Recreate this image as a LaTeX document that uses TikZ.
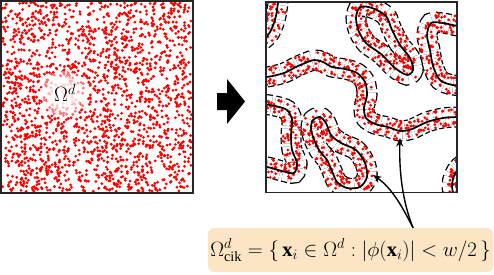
\documentclass[tikz,border=0pt]{standalone}
\usepackage{fontspec}
\setmainfont{Liberation Serif}
\usetikzlibrary{arrows.meta}
\definecolor{lblfill}{RGB}{252,229,196}
\definecolor{dotred}{RGB}{255,0,0}
\pgfdeclarelayer{edgelayer}
\pgfdeclarelayer{dotlayer}
\pgfsetlayers{edgelayer,dotlayer,main}
\tikzset{
  panel/.style={draw=black!85, line width=1.5pt},
  bandedge/.style={draw=black, dash pattern=on 5.5pt off 3pt, line width=1.3pt, double=white, double distance=18.5pt},
  midline/.style={draw=black, line width=1.7pt},
  conn/.style={draw=black, line width=1.4pt, -{Stealth[length=8.5pt,width=7pt]}},
  lblbox/.style={fill=lblfill, rounded corners=6pt, minimum width=285pt, minimum height=44pt, inner sep=0pt},
}
\newcommand\rightclip{\clip (266,2) rectangle (457,192);}
% random dots along a polyline given as x/y list
\newcommand\polydots[1]{%
  \foreach \px/\py [count=\k, remember=\px as \lx (initially 0), remember=\py as \ly (initially 0)] in {#1} {%
    \ifnum\k>1
      \pgfmathsetmacro\bdx{\px-\lx}%
      \pgfmathsetmacro\bdy{\py-\ly}%
      \pgfmathsetmacro\blen{veclen(\bdx,\bdy)}%
      \pgfmathtruncatemacro\bn{max(1,round(\blen/1.0))}%
      \foreach \j in {1,...,\bn}{%
        \pgfmathsetmacro\bt{rnd}%
        \pgfmathsetmacro\boff{rnd*19-9.5}%
        \fill[dotred] ({\lx+\bt*\bdx-\boff*\bdy/\blen},{\ly+\bt*\bdy+\boff*\bdx/\blen}) circle (1.55pt);
      }%
    \fi
  }%
}
\newcommand\myband[2]{%
  \begin{pgfonlayer}{edgelayer}\begin{scope}\rightclip\draw[bandedge] #1;\end{scope}\end{pgfonlayer}
  \begin{pgfonlayer}{dotlayer}\begin{scope}\rightclip\polydots{#2}\end{scope}\end{pgfonlayer}
  \begin{scope}\rightclip\draw[midline] #1;\end{scope}%
}
\begin{document}
\begin{tikzpicture}[x=1pt,y=-1pt]
\useasboundingbox (0,0) rectangle (494,274);
\pgfmathsetseed{4242}
% left panel
\foreach \i in {1,...,2000} {\fill[dotred] (2.5+rnd*189, 2.5+rnd*189) circle (1.55pt);}
\fill[white, opacity=0.45] (64,94) circle (23pt);
\fill[white, opacity=0.45] (64,94) circle (18pt);
\fill[white, opacity=0.5] (64,94) circle (13pt);
\node (om) at (65,93) {\fontsize{20}{22}\selectfont$\Omega^d$};
\draw[panel] (1,1) rectangle (193,193);
% block arrow
\fill[black] (217,93) -- (227,93) -- (227,79) -- (245,101.5) -- (227,124) -- (227,110) -- (217,110) -- cycle;
% right panel bands
\myband{plot[smooth] coordinates {(280,-12) (278,3) (275,20) (268,35) (252,48)}}
  {280/-12, 278/3, 275/20, 268/35, 252/48}
\myband{plot[smooth] coordinates {(250,78) (267,77) (284,73) (298,66) (314,60) (323,62) (332,67) (345,69) (357,73) (365,82) (367,95) (364,108) (366,118) (375,124) (388,127) (400,131) (412,129) (427,122) (443,118) (458,117) (475,117)}}
  {250/78, 267/77, 284/73, 298/66, 314/60, 323/62, 332/67, 345/69, 357/73, 365/82, 367/95, 364/108, 366/118, 375/124, 388/127, 400/131, 412/129, 427/122, 443/118, 458/117, 475/117}
\myband{plot[smooth] coordinates {(250,166) (267,167) (282,171) (294,173) (297,163) (292,150) (291,135) (292,120) (287,110) (275,106) (262,104) (250,104)}}
  {250/166, 267/167, 282/171, 294/173, 297/163, 292/150, 291/135, 292/120, 287/110, 275/106, 262/104, 250/104}
\myband{plot[smooth cycle] coordinates {(313,120) (320,117) (326,123) (331,135) (341,143) (356,150) (365,163) (367,177) (360,187) (347,188) (337,182) (332,171) (327,160) (319,150) (313,137) (311,127)}}
  {313/120, 320/117, 326/123, 331/135, 341/143, 356/150, 365/163, 367/177, 360/187, 347/188, 337/182, 332/171, 327/160, 319/150, 313/137, 311/127, 313/120}
\myband{plot[smooth cycle] coordinates {(360,7) (372,8) (386,16) (392,30) (400,45) (410,58) (413,70) (407,75) (395,68) (381,54) (367,44) (359,32) (356,18)}}
  {360/7, 372/8, 386/16, 392/30, 400/45, 410/58, 413/70, 407/75, 395/68, 381/54, 367/44, 359/32, 356/18, 360/7}
\myband{plot[smooth] coordinates {(475,27) (458,26) (443,23) (431,23) (427,35) (430,50) (433,66) (440,80) (453,85) (475,86)}}
  {475/27, 458/26, 443/23, 431/23, 427/35, 430/50, 433/66, 440/80, 453/85, 475/86}
\myband{(479,186) circle (27pt)}
  {452/186, 454/175, 458/167, 464/162, 472/159, 479/159, 452/186, 454/198, 460/206}
\draw[panel] (266,2) rectangle (457,192.5);
% label
\node[lblbox] (lbl) at (350.5,250) {\fontsize{20.5}{24}\selectfont$\Omega^d_{\mathrm{cik}} = \{\,\mathbf{x}_i \in \Omega^d : |\phi(\mathbf{x}_i)| < w/2\,\}$};
\coordinate (s) at ([xshift=62.5pt]lbl.north);
\coordinate (t1) at (400,138);
\coordinate (t2) at (373,175);
\draw[conn] (s) .. controls (402,200) and (399,170) .. (t1);
\draw[conn] (s) .. controls (403,208) and (392,188) .. (t2);
\end{tikzpicture}
\end{document}
